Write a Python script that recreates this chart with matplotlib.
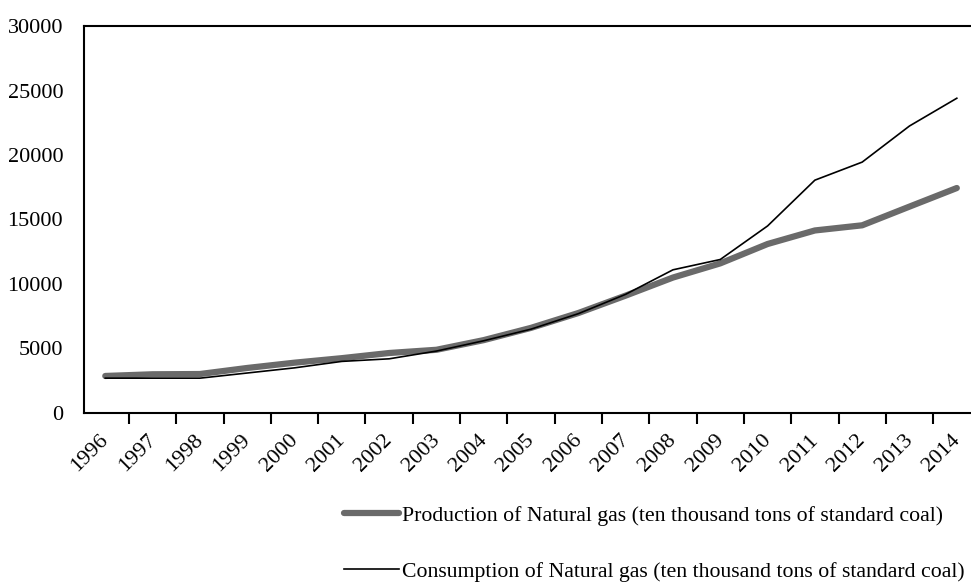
import numpy as np
import matplotlib.pyplot as plt
from matplotlib.ticker import FixedLocator

years = [str(y) for y in range(1996, 2015)]
production = [2870, 3000, 3020, 3490, 3900, 4250, 4650, 4900, 5650, 6600,
              7750, 9100, 10500, 11600, 13100, 14150, 14550, 16000, 17440]
consumption = [2700, 2700, 2700, 3100, 3500, 4000, 4200, 4800, 5600, 6500,
               7700, 9200, 11100, 11900, 14500, 18050, 19450, 22250, 24400]

plt.rcParams['font.family'] = ['Liberation Serif', 'DejaVu Serif']

fig = plt.figure(figsize=(9.71, 5.83), dpi=100)
ax = fig.add_axes([0.0865, 0.2916, 0.9135, 0.6638])

x = np.arange(len(years))
ax.plot(x, production, color='#6a6a6a', lw=4.5, solid_capstyle='round',
        label='Production of Natural gas (ten thousand tons of standard coal)')
ax.plot(x, consumption, color='black', lw=1.2,
        label='Consumption of Natural gas (ten thousand tons of standard coal)')

ax.set_xlim(-0.45, 18.3)
ax.set_ylim(0, 30000)
ax.set_yticks(range(0, 30001, 5000))
ax.tick_params(axis='y', length=0, pad=15, labelsize=16)

# labels sit a little left of and below each point
ax.set_xticks(x - 0.13)
ax.set_xticklabels(years, rotation=45, ha='right', rotation_mode='anchor', fontsize=16)
ax.xaxis.set_minor_locator(FixedLocator(np.arange(-0.5, 19, 1)))
ax.tick_params(axis='x', which='major', length=0, pad=13)
ax.tick_params(axis='x', which='minor', length=8, width=1.5, direction='out')

for s in ['left', 'bottom', 'top']:
    ax.spines[s].set_linewidth(1.5)
ax.spines['right'].set_visible(False)

leg = ax.legend(loc='upper right', bbox_to_anchor=(0.998, -0.228), frameon=False,
                fontsize=15.7, handlelength=2.5, labelspacing=1.65,
                handletextpad=0.15, borderaxespad=0, borderpad=0.2)

fig.savefig('out.png', dpi=100)
